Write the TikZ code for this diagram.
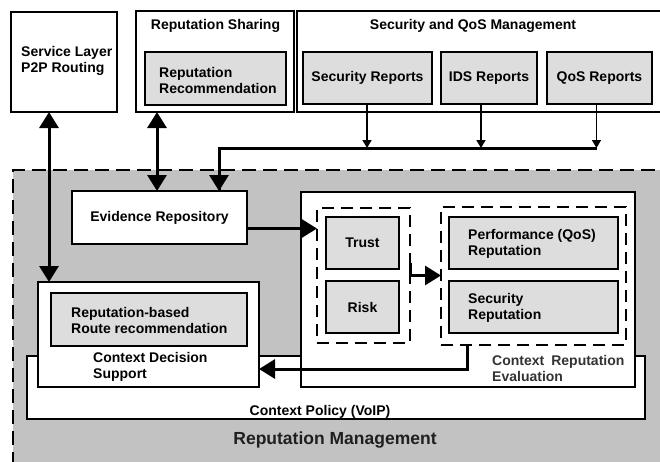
\documentclass[tikz,border=0pt]{standalone}
\usepackage{fontspec}
\setmainfont{Liberation Sans}
\usetikzlibrary{arrows.meta,calc}
\definecolor{regiongrey}{RGB}{194,194,194}
\definecolor{boxgrey}{RGB}{221,221,221}
\begin{document}
\begin{tikzpicture}[x=1pt,y=-1pt,
  box/.style={draw, line width=2pt, inner sep=0pt, outer sep=0pt, anchor=north west, fill=white, font=\fontsize{14}{16}\selectfont\bfseries},
  greybox/.style={box, fill=boxgrey},
  ctxbox/.style={box, line width=1.5pt},
  dashgrp/.style={draw, line width=1.6pt, dash pattern=on 12pt off 7pt, inner sep=0pt, outer sep=0pt, anchor=north west},
  lbl/.style={inner sep=0pt, font=\fontsize{14}{16}\selectfont\bfseries, align=left},
  thk/.style={line width=3pt},
  thn/.style={line width=1.5pt},
  bigtip/.tip={Triangle[length=16pt,width=19pt]},
  smalltip/.tip={Triangle[length=8pt,width=9pt]}
]
\useasboundingbox (0,0) rectangle (660,461);
\clip (0,0) rectangle (660,461);
\fill[white] (0,0) rectangle (660,461);

% Reputation Management region
\node[dashgrp, fill=regiongrey, dash pattern=on 14pt off 7pt, minimum width=670, minimum height=310] (repm) at (13,170) {};

% top boxes
\node[box, minimum width=106, minimum height=100] (svc) at (11,12) {};
\node[box, minimum width=158, minimum height=101] (rs) at (136,11) {};
\node[greybox, minimum width=141, minimum height=53] (rrec) at (145,52) {};
\node[box, minimum width=380, minimum height=101] (sqm) at (297,11) {};
\node[greybox, minimum width=129, minimum height=52] (secrep) at (303,52) {Security Reports};
\node[greybox, minimum width=96, minimum height=52] (idsrep) at (441,52) {IDS Reports};
\node[greybox, minimum width=105, minimum height=52] (qosrep) at (547,52) {QoS Reports};

% inner boxes
\node[ctxbox, minimum width=618, minimum height=63] (ctxpol) at (27,356) {};
\node[box, minimum width=175, minimum height=53] (ev) at (72,191) {Evidence Repository};
\node[ctxbox, minimum width=334, minimum height=195] (cre) at (301,192) {};
\node[ctxbox, minimum width=221, minimum height=105] (cds) at (38,282) {};
\node[greybox, minimum width=196, minimum height=53] (rbrr) at (51,293) {};
\node[dashgrp, minimum width=93, minimum height=135] (tgrp) at (317,208) {};
\node[greybox, minimum width=73, minimum height=52] (trust) at (326,217) {Trust};
\node[greybox, minimum width=73, minimum height=52] (risk) at (326,281) {Risk};
\node[dashgrp, minimum width=185, minimum height=138] (rgrp) at (441,207) {};
\node[greybox, minimum width=169, minimum height=52] (perf) at (449,217) {};
\node[greybox, minimum width=169, minimum height=52] (secr) at (449,281) {};

% texts
\node[lbl, anchor=west] (svct) at (21,61) {Service Layer\\P2P Routing};
\node[lbl] (rst) at (215.5,26) {Reputation Sharing};
\node[lbl, anchor=west] (rrect) at (159,80) {Reputation\\Recommendation};
\node[lbl] (sqmt) at (473,26) {Security and QoS Management};
\node[lbl, anchor=west] (rbrrt) at (71,320) {Reputation-based\\Route recommendation};
\node[lbl, anchor=west] (cdst) at (93,367) {Context Decision\\Support};
\node[lbl, anchor=west] (perft) at (468,243.5) {Performance (QoS)\\Reputation};
\node[lbl, anchor=west] (secrt) at (468,307.5) {Security\\Reputation};
\node[lbl, anchor=west, text=black!80] (cret) at (492,368) {Context\hspace{0.5em}Reputation\\Evaluation};
\node[lbl] (ctxpolt) at (320,412) {Context Policy (VoIP)};
\node[lbl, font=\fontsize{17.5}{20}\selectfont\bfseries, text=black!88] (repmt) at (335,440) {Reputation Management};

% feed line from reports
\coordinate (feedE) at (597,148);
\coordinate (feedW) at (219,148);
\draw[thk] (feedE) -- (feedW) -- ([xshift=147pt]ev.north west);
\draw[thk, -{bigtip}] (feedW) -- ([xshift=147pt]ev.north west);
\draw[thn, -{smalltip}] ([xshift=-0.5pt]secrep.south) -- ([xshift=-0.5pt]secrep.south |- feedE);
\draw[thn, -{smalltip}] ([xshift=-8pt]idsrep.south) -- ([xshift=-8pt]idsrep.south |- feedE);
\draw[thn, -{smalltip}] ([xshift=-3pt]qosrep.south) -- ([xshift=-3pt]qosrep.south |- feedE);

% double arrows
\draw[thk, {bigtip}-{bigtip}] ([xshift=38pt]svc.south west) -- ([xshift=11pt]cds.north west);
\draw[thk, {bigtip}-{bigtip}] ([xshift=21pt]rs.south west) -- ([xshift=85pt]ev.north west);

% evidence -> trust group
\draw[thk, -{bigtip}] ([yshift=-11pt]ev.east) -- ([yshift=-11pt]ev.east -| tgrp.west);
% trust group -> reputation group
\draw[thk, -{bigtip}] ([yshift=13pt]tgrp.east) -- (tgrp.east) -- (tgrp.east -| rgrp.west);
% reputation group -> context decision support
\draw[thk, -{bigtip}] ([xshift=26pt]rgrp.south west) |- ([yshift=-34.5pt]cds.east);
\end{tikzpicture}
\end{document}
